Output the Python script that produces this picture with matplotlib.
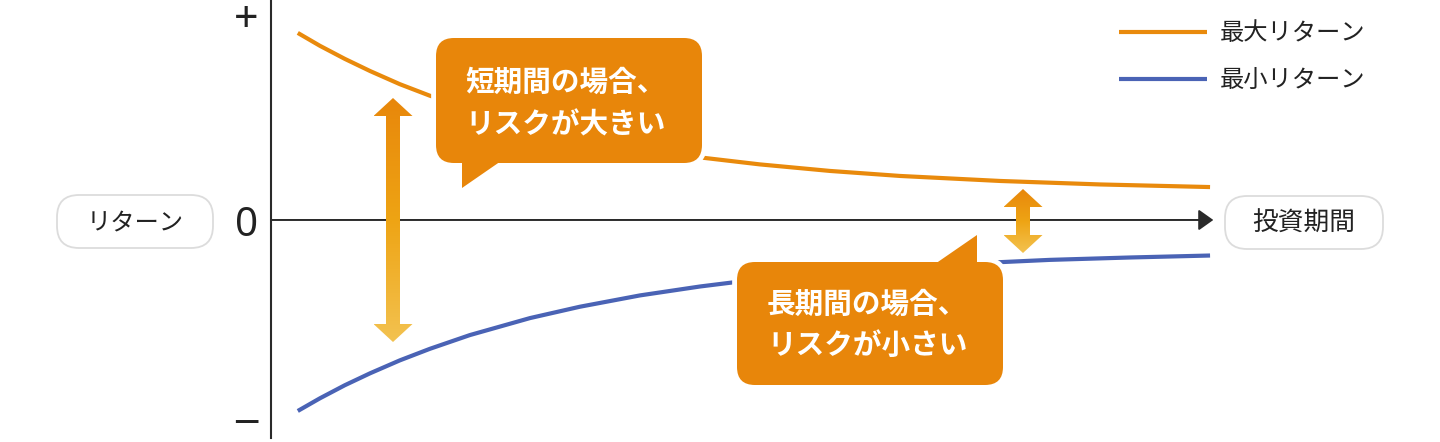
import matplotlib
matplotlib.use('Agg')
import matplotlib.pyplot as plt
import numpy as np
from matplotlib.patches import FancyBboxPatch, Polygon, FancyArrowPatch
from matplotlib.colors import LinearSegmentedColormap

plt.rcParams['font.family'] = ['Noto Sans CJK JP', 'DejaVu Sans']

# investment period (years, schematic) vs return (%)
period_max = [0.57, 1.04, 1.57, 2.11, 2.74, 3.38, 4.87, 7.00, 9.13, 10.40, 11.89, 13.38,
              15.51, 17.64, 19.98]
return_max = [85.8, 79.9, 73.9, 68.3, 62.3, 57.0, 46.7, 36.0, 28.7, 25.5, 22.5, 20.2,
              17.9, 16.3, 15.1]
period_min = [0.57, 1.04, 1.57, 2.11, 2.74, 3.38, 4.23, 5.51, 6.57, 7.85, 9.13, 10.40,
              12.32, 14.45, 16.57, 18.28, 19.98]
return_min = [-87.6, -81.8, -75.8, -70.3, -64.4, -59.1, -52.8, -45.0, -39.8, -34.6, -30.5,
              -27.1, -23.3, -20.4, -18.3, -17.2, -16.3]
series_labels = ['最大リターン', '最小リターン']
callout_short = ['短期間の場合、', 'リスクが大きい']
callout_long = ['長期間の場合、', 'リスクが小さい']
axis_labels = ['リターン', '投資期間']
y_marks = ['+', '0', '−']

ORANGE = '#E98A0C'
BLUE = '#4A63B5'
CALL = '#E8860A'
AXIS = '#2a2a2a'
arrow_cmap = LinearSegmentedColormap.from_list('arr', ['#E8870B', '#EEA414', '#F3C250'])

W, H = 1440, 442
fig = plt.figure(figsize=(W / 100, H / 100), dpi=100)

# main axes: left spine at x=271px, zero line at y=220px
ax = fig.add_axes([271 / W, 4 / H, 940 / W, 438 / H])
ax.set_xlim(0, 20)
ax.set_ylim(-100, 100.9)
ax.plot(period_max, return_max, color=ORANGE, lw=3, solid_capstyle='butt',
        solid_joinstyle='round', label=series_labels[0])
ax.plot(period_min, return_min, color=BLUE, lw=3, solid_capstyle='butt',
        solid_joinstyle='round', label=series_labels[1])
for s in ['top', 'right', 'bottom']:
    ax.spines[s].set_visible(False)
ax.spines['left'].set_color(AXIS)
ax.spines['left'].set_linewidth(1.5)
ax.set_xticks([])
ax.set_yticks([])
ax.patch.set_alpha(0)
ax.add_patch(FancyArrowPatch((0, 0), (20.05, 0),
                             arrowstyle='-|>,head_length=0.45,head_width=0.32',
                             mutation_scale=20, color=AXIS, lw=1.4,
                             shrinkA=0, shrinkB=0, clip_on=False))

# overlay in pixel units for the decorations
ov = fig.add_axes([0, 0, 1, 1], zorder=3)
ov.patch.set_alpha(0)
ov.axis('off')


def callout(x0, y0, x1, y1, tail, lines, tx, ty):
    for fc, ec, lw, z in [('white', 'white', 7, 4), (CALL, 'none', 0, 5)]:
        ov.add_patch(FancyBboxPatch((x0, y0), x1 - x0, y1 - y0,
                                    boxstyle='round,pad=0,rounding_size=18',
                                    fc=fc, ec=ec, lw=lw, zorder=z))
        ov.add_patch(Polygon(tail, closed=True, fc=fc, ec=ec, lw=lw, zorder=z))
    for k, line in enumerate(lines):
        ov.text(tx, ty[k], line, color='white', fontsize=20.6, fontweight='bold',
                ha='left', va='center', zorder=6)


def grad_arrow(cx, y0, y1, sw=7, hw=19.5, hl=18):
    pts = [(cx, y0), (cx + hw, y0 + hl), (cx + sw, y0 + hl), (cx + sw, y1 - hl),
           (cx + hw, y1 - hl), (cx, y1), (cx - hw, y1 - hl), (cx - sw, y1 - hl),
           (cx - sw, y0 + hl), (cx - hw, y0 + hl)]
    poly = Polygon(pts, closed=True, fc='none', ec='none')
    ov.add_patch(poly)
    grad = np.linspace(0, 1, 256).reshape(-1, 1)
    im = ov.imshow(grad, cmap=arrow_cmap, extent=(cx - hw, cx + hw, y1, y0),
                   origin='upper', aspect='auto', zorder=4, interpolation='bilinear')
    im.set_clip_path(poly)


def pill(x0, y0, x1, y1, text, size):
    ov.add_patch(FancyBboxPatch((x0, y0), x1 - x0, y1 - y0,
                                boxstyle='round,pad=0,rounding_size=22',
                                fc='white', ec='#dcdcdc', lw=1.3, zorder=4))
    ov.text((x0 + x1) / 2, (y0 + y1) / 2 + 1, text, fontsize=size, color='#222222',
            ha='center', va='center', zorder=5)


grad_arrow(393, 98, 342)
grad_arrow(1023, 189, 253)

callout(436, 38, 702, 163, [(462, 150), (462, 188), (517, 150)],
        callout_short, 465, [82, 124])
callout(737, 262, 1003, 385, [(977, 275), (977, 235), (919, 275)],
        callout_long, 767, [304, 345])

pill(57, 195, 213, 248, axis_labels[0], 17.5)
pill(1225, 196, 1383, 249, axis_labels[1], 18.5)

# +, 0, − marks
ov.text(246, 21, y_marks[0], fontsize=31, family='Noto Sans', color='#222222', ha='center', va='center')
ov.text(247, 226, y_marks[1], fontsize=29, family='Noto Sans', color='#222222', ha='center', va='center')
ov.text(246, 440, y_marks[2], fontsize=26, family='DejaVu Sans', color='#222222', ha='center', va='bottom')

# legend
for k, (col, yy) in enumerate([(ORANGE, 32), (BLUE, 79)]):
    ov.plot([1119, 1207], [yy, yy], color=col, lw=3, solid_capstyle='butt')
    ov.text(1220, yy + 1, series_labels[k], fontsize=17.5, color='#222222', ha='left', va='center')

ov.set_xlim(0, W)
ov.set_ylim(H, 0)

fig.savefig('out.png', dpi=100)
